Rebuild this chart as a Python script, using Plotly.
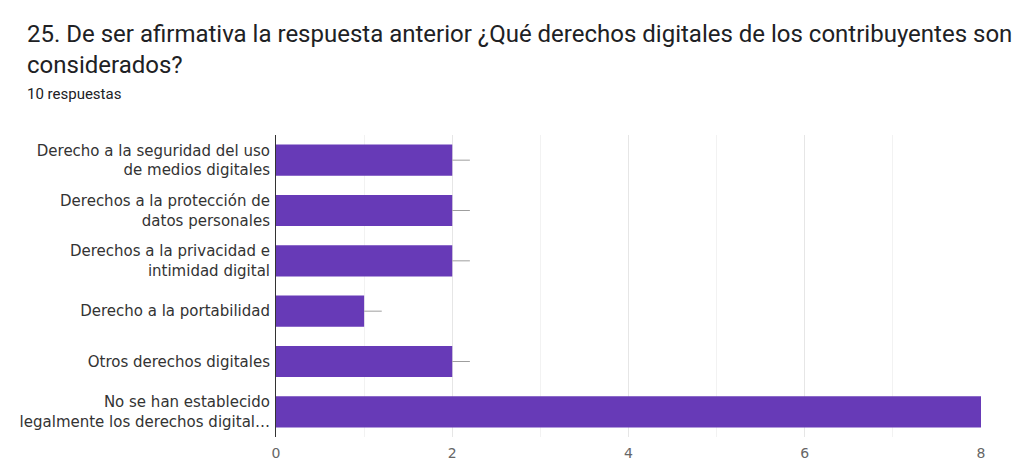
import plotly.graph_objects as go

# Survey answers (categories top to bottom) and counts
categories = [
    "Derecho a la seguridad del uso<br>de medios digitales",
    "Derechos a la protección de<br>datos personales",
    "Derechos a la privacidad e<br>intimidad digital",
    "Derecho a la portabilidad",
    "Otros derechos digitales",
    "No se han establecido<br>legalmente los derechos digital…",
]
counts = [2, 2, 2, 1, 2, 8]
whisker = [0.2, 0.2, 0.2, 0.2, 0.2, 0]
x_ticks = [0, 2, 4, 6, 8]

title_line1 = "25. De ser afirmativa la respuesta anterior ¿Qué derechos digitales de los contribuyentes son"
title_line2 = "considerados?"
subtitle = "10 respuestas"

ML, MR, MT, MB = 276, 50, 135, 26
W, H = 1031, 463

fig = go.Figure()
fig.add_trace(go.Bar(
    y=categories,
    x=counts,
    orientation="h",
    width=0.62,
    marker=dict(color="#673AB7", line=dict(width=0)),
    error_x=dict(type="data", symmetric=False, array=whisker,
                 arrayminus=[0] * len(counts),
                 color="#9e9e9e", thickness=1, width=0),
    hoverinfo="x+y",
))


def header(text, px, py, size):
    # convert pixel position on the page to paper coordinates
    return dict(text=text, x=(px - ML) / (W - ML - MR), y=(H - MB - py) / (H - MT - MB),
                xref="paper", yref="paper", showarrow=False,
                xanchor="left", yanchor="middle",
                font=dict(family="Roboto, sans-serif", size=size, color="#202124"))


fig.update_layout(
    width=W, height=H,
    margin=dict(l=ML, r=MR, t=MT, b=MB),
    paper_bgcolor="white",
    plot_bgcolor="white",
    showlegend=False,
    font=dict(family="DejaVu Sans, sans-serif", color="#333333"),
    xaxis=dict(
        range=[0, 8],
        tickvals=x_ticks,
        ticks="",
        ticklabelstandoff=6,
        automargin=False,
        tickfont=dict(family="DejaVu Sans, sans-serif", size=14, color="#666666"),
        showgrid=True, gridcolor="#e6e6e6", gridwidth=1,
        minor=dict(dtick=1, showgrid=True, gridcolor="#f2f2f2", gridwidth=1),
        zeroline=False,
        showline=False,
        fixedrange=True,
    ),
    yaxis=dict(
        autorange="reversed",
        automargin=False,
        tickfont=dict(family="DejaVu Sans, sans-serif", size=15, color="#333333"),
        ticks="",
        ticklabelstandoff=2,
        showline=True, linecolor="#333333", linewidth=1,
        showgrid=False,
        fixedrange=True,
    ),
    annotations=[
        header(title_line1, 25, 34, 24),
        header(title_line2, 25, 65, 24),
        header(subtitle, 25, 94, 15),
    ],
)

fig.write_html("out.html")
